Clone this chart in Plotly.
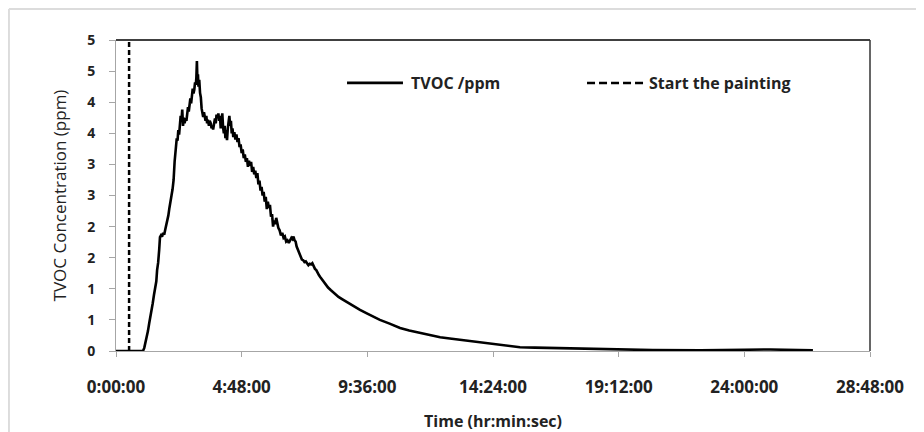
import plotly.graph_objects as go

# time since start (hours) and TVOC concentration
t_hr = [0, 1.03, 1.08, 1.13, 1.18, 1.22, 1.27, 1.32, 1.36, 1.40, 1.45, 1.50, 1.54, 1.57, 1.61,
        1.65, 1.68, 1.72, 1.76, 1.80, 1.84, 1.88, 1.92, 1.96, 2.00, 2.04, 2.08, 2.12, 2.16, 2.20,
        2.24, 2.28, 2.32, 2.35, 2.38, 2.41, 2.44, 2.47, 2.50, 2.53, 2.56, 2.59, 2.62, 2.66, 2.69,
        2.72, 2.75, 2.78, 2.81, 2.84, 2.87, 2.90, 2.93, 2.96, 2.99, 3.02, 3.05, 3.07, 3.09, 3.11,
        3.13, 3.15, 3.18, 3.21, 3.24, 3.27, 3.30, 3.33, 3.36, 3.39, 3.42, 3.45, 3.48, 3.51, 3.55,
        3.58, 3.62, 3.65, 3.68, 3.71, 3.75, 3.78, 3.81, 3.84, 3.88, 3.91, 3.94, 3.97, 4.00, 4.03,
        4.06, 4.09, 4.12, 4.15, 4.18, 4.21, 4.24, 4.27, 4.30, 4.33, 4.36, 4.39, 4.42, 4.45, 4.48,
        4.52, 4.56, 4.60, 4.64, 4.68, 4.72, 4.76, 4.80, 4.84, 4.88, 4.92, 4.96, 5.00, 5.04, 5.08,
        5.12, 5.16, 5.20, 5.24, 5.28, 5.32, 5.36, 5.40, 5.44, 5.48, 5.52, 5.56, 5.60, 5.64, 5.68,
        5.72, 5.76, 5.80, 5.84, 5.88, 5.92, 5.96, 6.00, 6.04, 6.08, 6.12, 6.16, 6.20, 6.25, 6.30,
        6.35, 6.40, 6.45, 6.50, 6.55, 6.60, 6.65, 6.70, 6.74, 6.78, 6.82, 6.86, 6.90, 6.95, 7.00,
        7.05, 7.10, 7.15, 7.20, 7.25, 7.30, 7.35, 7.40, 7.45, 7.50, 7.55, 7.60, 7.65, 7.70, 7.75,
        7.80, 7.85, 7.90, 7.95, 8.00, 8.10, 8.20, 8.30, 8.40, 8.50, 8.65, 8.80, 9.05, 9.32, 9.60,
        9.85, 10.08, 10.45, 10.85, 11.20, 11.61, 12.00, 12.38, 12.75, 13.14, 13.50, 13.90, 14.30,
        14.67, 15.00, 15.43, 16.00, 16.58, 17.20, 17.72, 18.5, 19.25, 20.5, 22.31, 23.5, 24.0,
        25.0, 26.0, 26.62]
tvoc = [0, 0, 0.05, 0.14, 0.24, 0.32, 0.45, 0.55, 0.68, 0.76, 0.9, 1.03, 1.12, 1.3, 1.42,
        1.63, 1.83, 1.86, 1.84, 1.9, 1.87, 1.95, 2.02, 2.1, 2.18, 2.3, 2.38, 2.5, 2.6, 2.75,
        3.05, 3.3, 3.42, 3.38, 3.55, 3.48, 3.62, 3.78, 3.7, 3.88, 3.62, 3.75, 3.66, 3.74, 3.7,
        3.85, 3.92, 3.85, 4.0, 4.06, 3.98, 4.12, 4.22, 4.14, 4.2, 4.32, 4.28, 4.4, 4.66, 4.35,
        4.45, 4.25, 4.36, 4.15, 4.08, 3.9, 3.82, 3.76, 3.84, 3.72, 3.7, 3.78, 3.66, 3.72, 3.62,
        3.7, 3.66, 3.58, 3.62, 3.56, 3.68, 3.74, 3.66, 3.8, 3.76, 3.82, 3.7, 3.78, 3.58, 3.74,
        3.82, 3.6, 3.5, 3.62, 3.42, 3.55, 3.39, 3.58, 3.66, 3.78, 3.62, 3.7, 3.5, 3.58, 3.44,
        3.52, 3.4, 3.48, 3.36, 3.42, 3.28, 3.32, 3.18, 3.24, 3.1, 3.16, 3.04, 3.1, 2.96, 3.06,
        2.98, 3.04, 2.88, 2.96, 2.84, 2.9, 2.78, 2.86, 2.68, 2.74, 2.58, 2.64, 2.5, 2.56, 2.4,
        2.48, 2.28, 2.4, 2.3, 2.35, 2.16, 2.2, 2.0, 2.1, 2.04, 2.14, 2.06, 1.98, 1.94, 1.86,
        1.9, 1.82, 1.84, 1.76, 1.78, 1.74, 1.78, 1.82, 1.8, 1.84, 1.78, 1.76, 1.68, 1.62, 1.56,
        1.5, 1.47, 1.46, 1.43, 1.44, 1.4, 1.38, 1.4, 1.39, 1.41, 1.36, 1.32, 1.3, 1.25, 1.22,
        1.19, 1.16, 1.12, 1.1, 1.06, 1.02, 0.98, 0.94, 0.9, 0.87, 0.83, 0.79, 0.72, 0.66, 0.6,
        0.55, 0.5, 0.44, 0.37, 0.33, 0.29, 0.25, 0.22, 0.2, 0.18, 0.15, 0.13, 0.11,
        0.10, 0.08, 0.06, 0.055, 0.05, 0.04, 0.03, 0.025, 0.02, 0.015, 0.01, 0.01, 0.02,
        0.025, 0.02, 0.01]

start_hr = [0.5, 0.5]
start_y = [0, 5]

x_ticks = [0, 4.8, 9.6, 14.4, 19.2, 24.0, 28.8]
x_labels = ["0:00:00", "4:48:00", "9:36:00", "14:24:00", "19:12:00", "24:00:00", "28:48:00"]
y_ticks = [0, 0.5, 1, 1.5, 2, 2.5, 3, 3.5, 4, 4.5, 5]
y_labels = ["0", "1", "1", "2", "2", "3", "3", "4", "4", "5", "5"]

fnt = "Open Sans, DejaVu Sans, sans-serif"
txt = "#222"

fig = go.Figure()
fig.add_trace(go.Scatter(x=t_hr, y=tvoc, mode="lines", name="TVOC /ppm",
                         line=dict(color="black", width=2.6)))
fig.add_trace(go.Scatter(x=start_hr, y=start_y, mode="lines", name="Start the painting",
                         line=dict(color="black", width=2.5, dash="5px,3px")))

# legend drawn by hand so the samples get Excel-like lengths
legend_shapes = [
    dict(type="line", xref="paper", yref="paper", x0=0.3064, x1=0.3806, y0=0.862, y1=0.862,
         line=dict(color="black", width=2.6)),
    dict(type="line", xref="paper", yref="paper", x0=0.6247, x1=0.7016, y0=0.862, y1=0.862,
         line=dict(color="black", width=2.5, dash="8px,4px")),
]
legend_notes = [
    dict(text="TVOC /ppm", x=0.3885, y=0.862),
    dict(text="Start the painting", x=0.7045, y=0.862),
]

fig.update_layout(
    width=916, height=424,
    margin=dict(l=108, r=54, t=32, b=81),
    plot_bgcolor="white", paper_bgcolor="white",
    font=dict(family=fnt, color=txt),
    showlegend=False,
    shapes=legend_shapes + [
        dict(type="line", xref="paper", yref="paper", x0=0, x1=1, y0=1, y1=1,
             line=dict(color="black", width=1.5)),
        dict(type="line", xref="paper", yref="paper", x0=1, x1=1, y0=0, y1=1,
             line=dict(color="#333", width=1.5)),
        dict(type="line", xref="paper", yref="paper", x0=-0.142, x1=1.2, y0=1.1, y1=1.1,
             line=dict(color="#dcdcdc", width=2)),
        dict(type="line", xref="paper", yref="paper", x0=-0.142, x1=-0.142, y0=-0.3, y1=1.1,
             line=dict(color="#dcdcdc", width=2)),
    ],
    annotations=[dict(text=a["text"], x=a["x"], y=a["y"], xref="paper", yref="paper",
                      xanchor="left", yanchor="middle", showarrow=False,
                      font=dict(size=16, weight="bold", color=txt)) for a in legend_notes],
)
fig.update_xaxes(range=[0, 28.8], tickvals=x_ticks, ticktext=x_labels, automargin=False,
                 showgrid=False, zeroline=False, showline=True, linecolor="#a6a6a6", linewidth=1,
                 ticks="outside", ticklen=5, tickcolor="#a6a6a6",
                 tickfont=dict(size=17, weight="bold", color=txt), ticklabelstandoff=16,
                 title=dict(text="Time (hr:min:sec)", font=dict(size=16, weight="bold", color=txt),
                            standoff=24))
fig.update_yaxes(range=[0, 5], tickvals=y_ticks, ticktext=y_labels, automargin=False,
                 showgrid=False, zeroline=False, showline=True, linecolor="#a6a6a6", linewidth=1,
                 ticks="outside", ticklen=6, tickcolor="#a6a6a6",
                 tickfont=dict(size=14, weight="bold", color=txt), ticklabelstandoff=11,
                 title=dict(text="TVOC Concentration (ppm)", font=dict(size=17, color=txt),
                            standoff=16))

fig.write_html("out.html")
